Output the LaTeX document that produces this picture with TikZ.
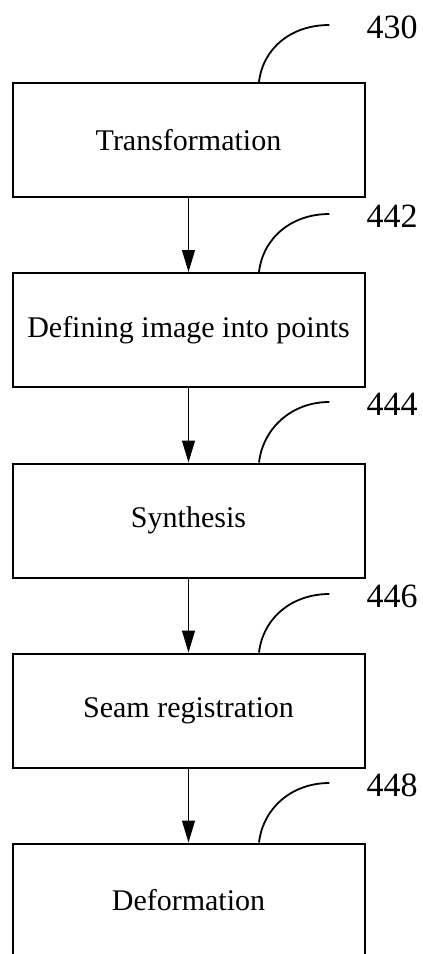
\documentclass[tikz,border=0pt]{standalone}
\usepackage{fontspec}
\setmainfont{Liberation Serif}
\usetikzlibrary{arrows.meta,calc}
\begin{document}
\begin{tikzpicture}[x=1pt,y=-1pt,
  box/.style={draw,line width=2pt,minimum width=352pt,minimum height=114pt,inner sep=0pt,
    font=\fontsize{30}{36}\selectfont},
  lab/.style={inner sep=0pt,font=\fontsize{34}{40}\selectfont},
  arr/.style={line width=1.2pt,-{Triangle[length=22pt,width=13pt]}},
  leader/.style={line width=1.8pt}]
\clip (0,0) rectangle (423,954);
\node[box] (b1) at (188.5,140) {Transformation};
\node[box] (b2) at (188.5,330) {Defining image into points};
\node[box] (b3) at (188.5,520.5) {Synthesis};
\node[box] (b4) at (188.5,710.5) {Seam registration};
\node[box] (b5) at (188.5,900.5) {Deformation};
\node[lab] (l1) at (392,27) {430};
\node[lab] (l2) at (392,216) {442};
\node[lab] (l3) at (392,404) {444};
\node[lab] (l4) at (392,596) {446};
\node[lab] (l5) at (392,785) {448};
\draw[arr] (b1.south) -- (b2.north);
\draw[arr] (b2.south) -- (b3.north);
\draw[arr] (b3.south) -- (b4.north);
\draw[arr] (b4.south) -- (b5.north);
\foreach \b/\l in {b1/l1,b2/l2,b3/l3,b4/l4,b5/l5}{
  \coordinate (s\b) at ($(\b.north)+(70.5,0)$);
  \coordinate (e\b) at ($(\l.west)+(-37,-2)$);
  \draw[leader] (s\b) .. controls ($(s\b)+(4,-34)$) and ($(e\b)+(-38,0)$) .. (e\b);
}
\end{tikzpicture}
\end{document}
